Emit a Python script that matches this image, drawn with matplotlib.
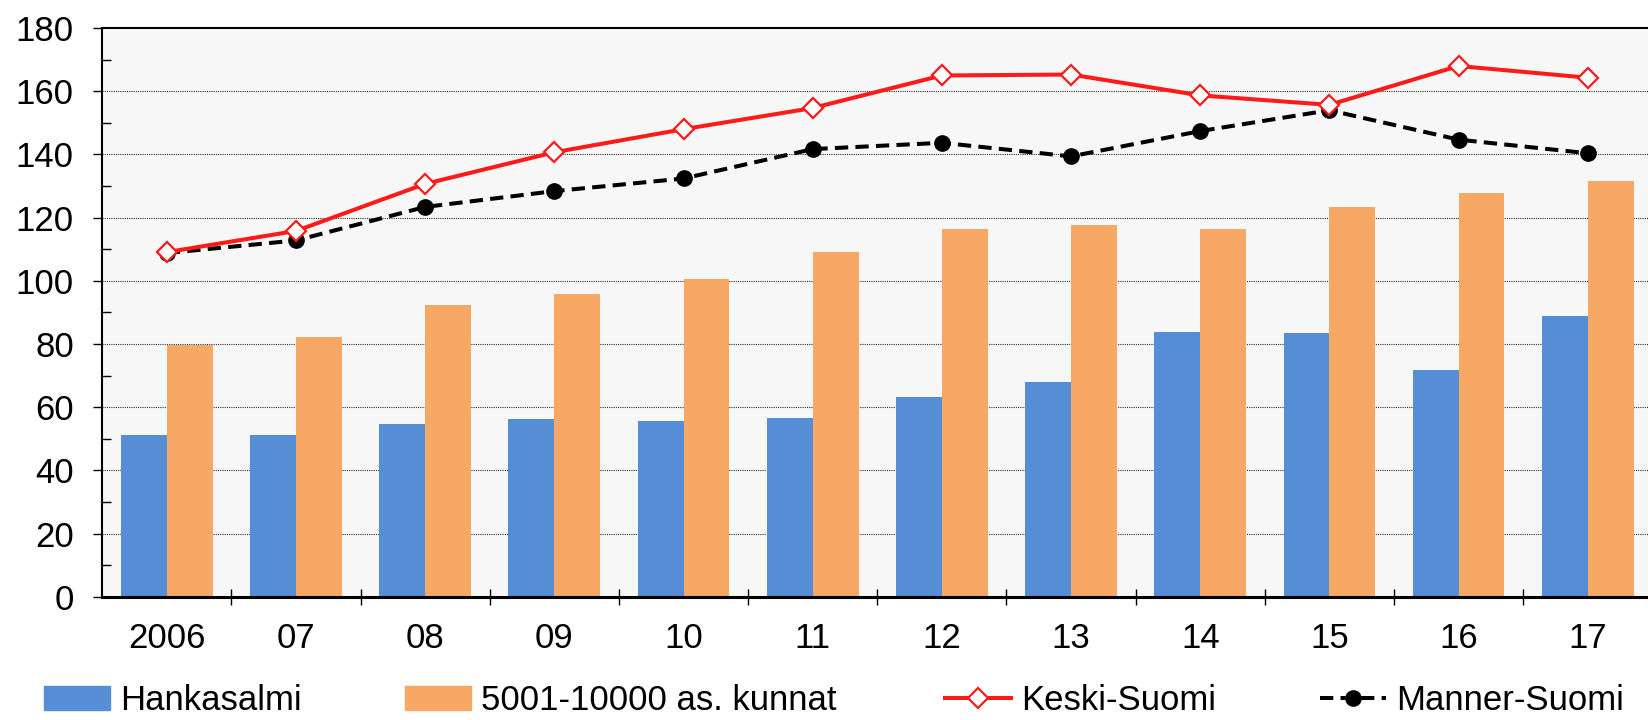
"""Hankasalmi vs. comparison groups, 2006-2017: bars + two index lines."""
import matplotlib
matplotlib.use("Agg")
import matplotlib.pyplot as plt
import numpy as np
from matplotlib.lines import Line2D
from matplotlib.patches import Patch

plt.rcParams.update({"font.family": ["Liberation Sans", "DejaVu Sans"], "font.size": 25})

years = ["2006", "07", "08", "09", "10", "11", "12", "13", "14", "15", "16", "17"]
hankasalmi = [51.2, 51.2, 54.6, 56.2, 55.6, 56.6, 63.2, 67.9, 83.8, 83.5, 71.9, 89.0]
kunnat_5001_10000 = [79.8, 82.2, 92.5, 95.8, 100.5, 109.1, 116.5, 117.6, 116.4, 123.3, 127.7, 131.7]
keski_suomi = [109.1, 115.8, 130.7, 140.7, 148.0, 154.7, 165.0, 165.3, 158.7, 155.7, 168.0, 164.3]
manner_suomi = [108.8, 112.8, 123.4, 128.4, 132.4, 141.7, 143.7, 139.4, 147.4, 154.0, 144.7, 140.4]

BLUE = "#558ed5"
ORANGE = "#f7a864"
RED = "#ff1a1a"
DASH = (0, (3.3, 1.8))

fig = plt.figure(figsize=(16.49, 7.2), dpi=100)
ax = fig.add_axes([0.062, 0.171, 0.940, 0.790])
ax.set_facecolor("#f7f7f7")

x = np.arange(len(years))
w = 0.355
ax.bar(x - w / 2, hankasalmi, w, color=BLUE, zorder=2)
ax.bar(x + w / 2, kunnat_5001_10000, w, color=ORANGE, zorder=2)
ax.plot(x, keski_suomi, color=RED, lw=2.9, marker="D", ms=10, mfc="white",
        mec=RED, mew=1.6, zorder=4)
ax.plot(x, manner_suomi, color="black", lw=2.9, ls=DASH, marker="o",
        ms=11, mfc="black", mec="black", zorder=3)

ax.set_xlim(-0.5, len(years) - 0.5)
ax.set_ylim(0, 180)
ax.set_yticks(np.arange(0, 181, 20))
ax.set_yticks(np.arange(10, 180, 20), minor=True)
ax.tick_params(axis="y", which="major", direction="out", length=6.5, width=1, pad=14)
ax.tick_params(axis="y", which="minor", direction="in", length=6.5, width=1)
for yv in range(20, 180, 20):
    ax.axhline(yv, color="#303030", lw=0.8, ls=(0, (1, 1)), zorder=1)

ax.set_xticks(x)
ax.set_xticklabels(years)
ax.set_xticks(np.arange(0.5, len(years) - 0.5, 1), minor=True)
ax.tick_params(axis="x", which="major", length=0, pad=18)
ax.tick_params(axis="x", which="minor", direction="inout", length=12, width=1)

for s in ("left", "top"):
    ax.spines[s].set_linewidth(1.5)
ax.spines["bottom"].set_linewidth(2.2)
ax.spines["right"].set_visible(False)

handles = [
    (Patch(color=BLUE), "Hankasalmi", 44),
    (Patch(color=ORANGE), "5001-10000 as. kunnat", 405),
    (Line2D([], [], color=RED, lw=2.9, marker="D", ms=10, mfc="white", mec=RED, mew=1.6), "Keski-Suomi", 945),
    (Line2D([], [], color="black", lw=2.9, ls=DASH, marker="o", ms=11), "Manner-Suomi", 1320),
]
for h, lab, px in handles:
    fig.legend([h], [lab], loc="center left", bbox_to_anchor=(px / 1649, 0.027),
               frameon=False, borderpad=0, borderaxespad=0, handlelength=1.9,
               handleheight=0.7, handletextpad=0.3, fontsize=25)

fig.savefig("out.png", dpi=100)
